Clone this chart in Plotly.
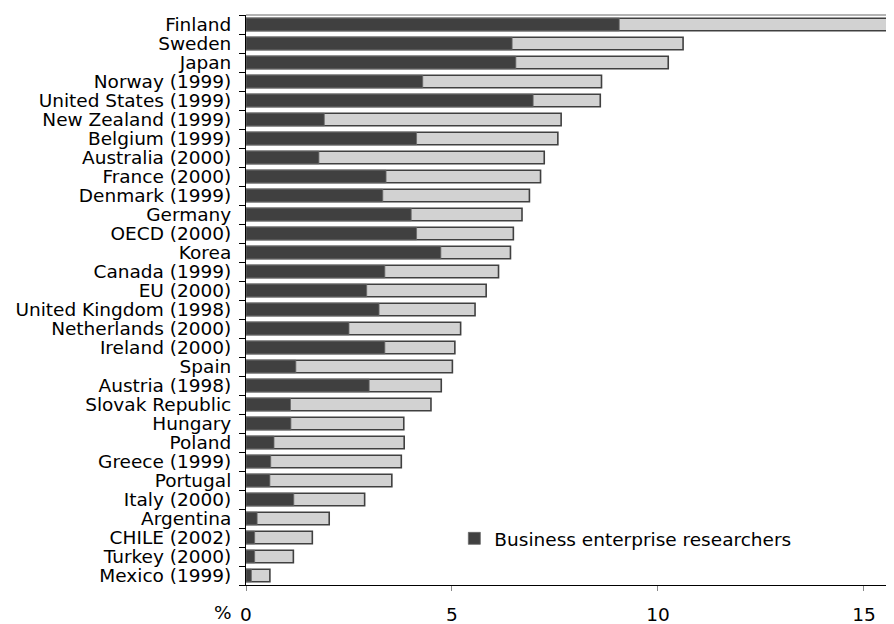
import plotly.graph_objects as go

countries = ["Finland", "Sweden", "Japan", "Norway (1999)", "United States (1999)",
             "New Zealand (1999)", "Belgium (1999)", "Australia (2000)", "France (2000)",
             "Denmark (1999)", "Germany", "OECD (2000)", "Korea", "Canada (1999)",
             "EU (2000)", "United Kingdom (1998)", "Netherlands (2000)", "Ireland (2000)",
             "Spain", "Austria (1998)", "Slovak Republic", "Hungary", "Poland",
             "Greece (1999)", "Portugal", "Italy (2000)", "Argentina", "CHILE (2002)",
             "Turkey (2000)", "Mexico (1999)"]

total_researchers = [15.9, 10.61, 10.25, 8.63, 8.60, 7.65, 7.57, 7.24, 7.15, 6.88,
                     6.70, 6.49, 6.42, 6.13, 5.83, 5.56, 5.21, 5.07, 5.01, 4.74,
                     4.49, 3.83, 3.84, 3.77, 3.54, 2.88, 2.02, 1.61, 1.15, 0.58]

business_researchers = [9.06, 6.46, 6.55, 4.29, 6.97, 1.90, 4.14, 1.77, 3.40, 3.32,
                        4.01, 4.14, 4.73, 3.37, 2.93, 3.23, 2.50, 3.37, 1.21, 2.99,
                        1.08, 1.09, 0.68, 0.60, 0.58, 1.16, 0.27, 0.21, 0.21, 0.13]

x_ticks = [0, 5, 10, 15]
axis_unit = "%"

FONT = "DejaVu Sans"
DARK = "#404040"
LIGHT = "#d2d2d2"

fig = go.Figure()
fig.add_trace(go.Bar(
    y=countries, x=total_researchers, orientation="h",
    marker=dict(color=LIGHT, line=dict(color=DARK, width=1.6)),
    width=0.66, showlegend=False, name="Total researchers"))
fig.add_trace(go.Bar(
    y=countries, x=business_researchers, orientation="h",
    marker=dict(color=DARK, line=dict(color="#6a6a6a", width=0.8)),
    width=0.66, name="Business enterprise researchers"))

fig.update_layout(
    barmode="overlay",
    width=886, height=616,
    margin=dict(l=238, r=0, t=7, b=39),
    paper_bgcolor="white", plot_bgcolor="white",
    font=dict(family=FONT, size=18.5, color="black"),
    legend=dict(x=0.3215, y=0.081, xanchor="left", yanchor="middle",
                bgcolor="rgba(0,0,0,0)", font=dict(size=18.5, family=FONT),
                itemwidth=30, tracegroupgap=0),
    xaxis=dict(range=[0, 15.73], tickvals=x_ticks, showgrid=False, zeroline=False,
               showline=True, linecolor="black", linewidth=1,
               ticks="outside", ticklen=5, tickcolor="#888", tickwidth=1,
               ticklabelstandoff=8, tickfont=dict(size=18.5, family=FONT)),
    yaxis=dict(autorange="reversed", showgrid=False, zeroline=False,
               tickmode="array", tickvals=countries, ticktext=countries,
               showline=True, linecolor="black", linewidth=1,
               ticks="outside", ticklen=6, tickcolor="black", tickwidth=1,
               tickson="boundaries", ticklabelstandoff=10,
               tickfont=dict(size=18.5, family=FONT)),
    shapes=[dict(type="line", xref="paper", yref="paper", x0=0, x1=1, y0=1, y1=1,
                 line=dict(color="#9a9a9a", width=1.6))],
    annotations=[dict(text=axis_unit, xref="paper", yref="paper", x=0, y=0,
                      xanchor="right", yanchor="top", xshift=-12, yshift=-15,
                      showarrow=False, font=dict(size=18.5, family=FONT))],
)

fig.write_html("out.html")
